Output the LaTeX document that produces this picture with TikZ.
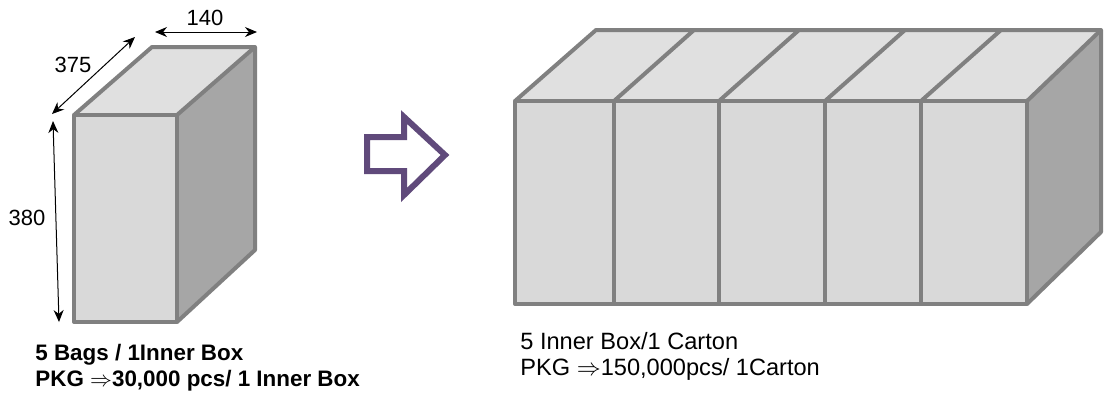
\documentclass[tikz,border=0pt]{standalone}
\usepackage{fontspec}
\setmainfont{Liberation Sans}
\usetikzlibrary{arrows.meta, calc}
\definecolor{edgegray}{HTML}{808080}
\definecolor{frontgray}{HTML}{D9D9D9}
\definecolor{topgray}{HTML}{E0E0E0}
\definecolor{sidegray}{HTML}{A6A6A6}
\definecolor{arrowpurple}{HTML}{604A7B}

\begin{document}
\begin{tikzpicture}[
        x=0.5pt, y=-0.5pt,
        face/.style = {draw=edgegray, line width=2pt, line join=round},
        dim/.style = {{Stealth[length=6pt, width=5pt]}-{Stealth[length=6pt, width=5pt]}, line width=0.5pt},
        dimlabel/.style = {font=\fontsize{11}{13}\selectfont, inner sep=0pt},
        caption/.style = {align=left, anchor=west, inner sep=0pt, font=\fontsize{11.8}{13}\selectfont},
    ]
    \useasboundingbox (0,0) rectangle (1105,398);

    % inner box
    \coordinate (ib-fl) at (74,322);
    \coordinate (ib-tl) at (74,115);
    \coordinate (ib-tr) at (177,115);
    \coordinate (ib-br) at (177,322);
    \coordinate (ib-bl) at (152,47);
    \coordinate (ib-bk) at (255,47);
    \coordinate (ib-bb) at (255,250);
    \fill[topgray] (ib-tl) -- (ib-bl) -- (ib-bk) -- (ib-tr) -- cycle;
    \fill[sidegray] (ib-tr) -- (ib-bk) -- (ib-bb) -- (ib-br) -- cycle;
    \fill[frontgray] (ib-fl) rectangle (ib-tr);
    \draw[face] (ib-fl) rectangle (ib-tr);
    \draw[face] (ib-tl) -- (ib-bl) -- (ib-bk) -- (ib-bb) -- (ib-br);
    \draw[face] (ib-tr) -- (ib-bk);

    % dimensions
    \coordinate (w-a) at (155,32);
    \coordinate (w-b) at (257,32);
    \coordinate (d-a) at (52,114);
    \coordinate (d-b) at (135,37);
    \coordinate (h-a) at (53,121);
    \coordinate (h-b) at (59,322);
    \draw[dim] (w-a) -- (w-b);
    \draw[dim] (d-a) -- (d-b);
    \draw[dim] (h-a) -- (h-b);
    \node[dimlabel] (w-lbl) at (205,18) {140};
    \node[dimlabel] (d-lbl) at (73,65) {375};
    \node[dimlabel] (h-lbl) at (27,218) {380};

    % hollow arrow
    \draw[arrowpurple, line width=3pt, fill=white, line join=miter]
        (367,137) -- (404,137) -- (404,117) -- (445,155) -- (404,195) -- (404,171) -- (367,171) -- cycle;

    % carton of five inner boxes
    \coordinate (ct-fl) at (515,304);
    \coordinate (ct-tl) at (515,101);
    \coordinate (ct-tr) at (1027,101);
    \coordinate (ct-br) at (1027,304);
    \coordinate (ct-bl) at (596,30);
    \coordinate (ct-bk) at (1101,30);
    \coordinate (ct-bb) at (1101,232);
    \fill[topgray] (ct-tl) -- (ct-bl) -- (ct-bk) -- (ct-tr) -- cycle;
    \fill[sidegray] (ct-tr) -- (ct-bk) -- (ct-bb) -- (ct-br) -- cycle;
    \fill[frontgray] (ct-fl) rectangle (ct-tr);
    \foreach \x in {614, 719, 825, 921} {
        \draw[face] (\x,101) -- (\x,304);
        \draw[face] (\x,101) -- (\x+80,30);
    }
    \draw[face] (ct-fl) rectangle (ct-tr);
    \draw[face] (ct-tl) -- (ct-bl) -- (ct-bk) -- (ct-bb) -- (ct-br);
    \draw[face] (ct-tr) -- (ct-bk);

    % captions
    \node[caption, font=\fontsize{11.2}{13}\selectfont\bfseries] (ib-text) at (35,368)
        {5 Bags / 1Inner Box\\PKG $\Rightarrow$30,000 pcs/ 1 Inner Box};
    \node[caption] (ct-text) at (520,356)
        {5 Inner Box/1 Carton\\PKG $\Rightarrow$150,000pcs/ 1Carton};
\end{tikzpicture}
\end{document}
